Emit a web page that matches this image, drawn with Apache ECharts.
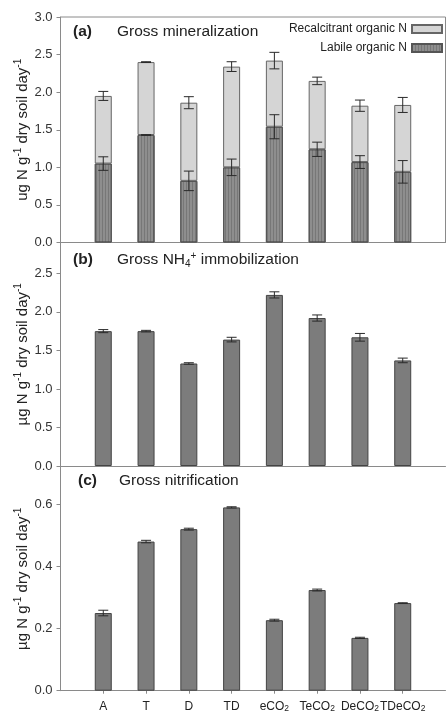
<!DOCTYPE html>
<html><head><meta charset="utf-8">
<script src="https://cdn.jsdelivr.net/npm/echarts@6/dist/echarts.min.js"></script>
<style>html,body{margin:0;padding:0;background:#fff}#c{width:446px;height:715px}</style>
</head><body><div id="c"></div>
<script>
// ---- data ----
const categories = ['A', 'T', 'D', 'TD', 'eCO2', 'TeCO2', 'DeCO2', 'TDeCO2'];
const labileN = [1.05, 1.43, 0.82, 1.00, 1.54, 1.24, 1.07, 0.94];
const labileErr = [0.09, 0.005, 0.13, 0.11, 0.16, 0.095, 0.085, 0.15];
const recalcitrantN = [0.90, 0.97, 1.04, 1.34, 0.88, 0.91, 0.75, 0.89];
const totalErr = [0.06, 0.005, 0.08, 0.065, 0.11, 0.05, 0.075, 0.10];
const nh4Immob = [1.75, 1.75, 1.33, 1.64, 2.22, 1.92, 1.67, 1.37];
const nh4ImmobErr = [0.02, 0.01, 0.01, 0.03, 0.04, 0.04, 0.05, 0.03];
const nitrif = [0.25, 0.48, 0.52, 0.59, 0.227, 0.324, 0.17, 0.282];
const nitrifErr = [0.009, 0.004, 0.003, 0.002, 0.003, 0.003, 0.002, 0.001];
const yMaxA = 3.0, yStepA = 0.5;
const yMaxB = 2.9, yStepB = 0.5;
const yMaxC = 0.72, yStepC = 0.2;

// ---- helpers ----
const FONT = '"Liberation Sans", Arial, sans-serif';
const AX = '#8a8a8a';
const xCats = [''].concat(categories, ['']);
const pad = arr => [null].concat(arr, [null]);
const total = labileN.map((v, i) => v + recalcitrantN[i]);
const errData = (vals, errs) => vals.map((v, i) => [i + 1, v, errs[i]]);

function errRender(params, api) {
  const x = api.value(0), y = api.value(1), e = api.value(2);
  const t = api.coord([x, y + e]), b = api.coord([x, y - e]);
  const hw = 5, st = { stroke: '#2a2a2a', lineWidth: 1 };
  return { type: 'group', children: [
    { type: 'line', shape: { x1: t[0], y1: t[1], x2: b[0], y2: b[1] }, style: st },
    { type: 'line', shape: { x1: t[0] - hw, y1: t[1], x2: t[0] + hw, y2: t[1] }, style: st },
    { type: 'line', shape: { x1: b[0] - hw, y1: b[1], x2: b[0] + hw, y2: b[1] }, style: st }
  ]};
}
function errSeries(idx, vals, errs) {
  return { type: 'custom', xAxisIndex: idx, yAxisIndex: idx, renderItem: errRender,
    data: errData(vals, errs), encode: { x: 0, y: 1 }, z: 10, silent: true };
}
const supRich = {
  n: { fontSize: 15, fontFamily: FONT, color: '#222', lineHeight: 19 },
  sup: { fontSize: 10, fontFamily: FONT, color: '#222', verticalAlign: 'top', lineHeight: 11 }
};
function yAxis(idx, max, step, name) {
  return {
    type: 'value', gridIndex: idx, min: 0, max: max, interval: step,
    name: name, nameLocation: 'middle', nameGap: 28, nameMoveOverlap: false,
    nameTextStyle: { rich: supRich },
    axisLine: { show: true, lineStyle: { color: AX, width: 1 } },
    axisTick: { show: true, length: 4, lineStyle: { color: AX } },
    axisLabel: { fontSize: 13, fontFamily: FONT, color: '#333', margin: 8, showMaxLabel: Math.abs(max / step - Math.round(max / step)) < 1e-9,
      formatter: v => v.toFixed(1) },
    splitLine: { show: false }
  };
}
function xAxis(idx, showLabels) {
  return {
    type: 'category', gridIndex: idx, data: xCats, boundaryGap: false,
    axisLine: { show: true, lineStyle: { color: AX, width: 1 } },
    axisTick: { show: showLabels, length: 3, interval: i => i > 0 && i < xCats.length - 1, lineStyle: { color: AX } },
    axisLabel: { show: showLabels, interval: i => i > 0 && i < xCats.length - 1, margin: 10,
      fontSize: 12, fontFamily: FONT, color: '#222',
      formatter: v => v.replace('CO2', 'CO{s|2}'),
      rich: { s: { fontSize: 8.5, fontFamily: FONT, color: '#222', verticalAlign: 'bottom', lineHeight: 10 } } },
    splitLine: { show: false }
  };
}
const titleRich = (w) => ({
  b: { fontSize: 15.5, fontWeight: 'bold', fontFamily: FONT, color: '#222', width: w, lineHeight: 18 },
  n: { fontSize: 15.5, fontWeight: 'normal', fontFamily: FONT, color: '#222', lineHeight: 18 },
  s: { fontSize: 10, fontWeight: 'normal', fontFamily: FONT, color: '#222', verticalAlign: 'bottom', lineHeight: 10 },
  p: { fontSize: 10, fontWeight: 'normal', fontFamily: FONT, color: '#222', verticalAlign: 'top', lineHeight: 10 }
});
const titleStyle = (w) => ({ fontWeight: 'normal', fontFamily: FONT, rich: titleRich(w) });

const chart = echarts.init(document.getElementById('c'), null, { renderer: 'canvas' });
chart.setOption({
  animation: false,
  backgroundColor: '#fff',
  textStyle: { fontFamily: FONT },
  title: [
    { text: '{b|(a)}{n|Gross mineralization}', left: 73, top: 23, padding: 0, textStyle: titleStyle(44) },
    { text: '{b|(b)}{n|Gross NH}{s|4}{p|+}{n| immobilization}', left: 73, top: 251, padding: 0, textStyle: titleStyle(44) },
    { text: '{b|(c)}{n|Gross nitrification}', left: 78, top: 472, padding: 0, textStyle: titleStyle(41) }
  ],
  legend: {
    data: [{ name: 'Recalcitrant organic N', icon: 'rect' }, { name: 'Labile organic N', icon: 'rect' }],
    orient: 'vertical', right: 3, top: 22, padding: 0, align: 'right',
    itemWidth: 30, itemHeight: 8, itemGap: 5,
    textStyle: { fontSize: 12, fontFamily: FONT, color: '#222', lineHeight: 14 }
  },
  grid: [
    { left: 60.5, right: 0.5, top: 17, height: 225.5, show: true, borderColor: AX, borderWidth: 1 },
    { left: 60.5, right: 0.5, top: 242.5, height: 223.5 },
    { left: 60.5, right: 0.5, top: 467, height: 223.7 }
  ],
  xAxis: [xAxis(0, false), xAxis(1, false), xAxis(2, true)],
  yAxis: [
    yAxis(0, yMaxA, yStepA, '{n|ug N g}{sup|-1}{n| dry soil day}{sup|-1}'),
    yAxis(1, yMaxB, yStepB, '{n|µg N g}{sup|-1}{n| dry soil day}{sup|-1}'),
    yAxis(2, yMaxC, yStepC, '{n|µg N g}{sup|-1}{n| dry soil day}{sup|-1}')
  ],
  series: [
    { name: 'Labile organic N', type: 'bar', xAxisIndex: 0, yAxisIndex: 0, stack: 'a', barWidth: 17,
      data: pad(labileN),
      itemStyle: { color: '#8e8e8e', borderColor: '#555', borderWidth: 1,
        decal: { symbol: 'rect', symbolSize: 1, color: 'rgba(0,0,0,0.16)', dashArrayX: [1, 2], dashArrayY: [4, 0], rotation: 0 } } },
    { name: 'Recalcitrant organic N', type: 'bar', xAxisIndex: 0, yAxisIndex: 0, stack: 'a', barWidth: 17,
      data: pad(recalcitrantN),
      itemStyle: { color: '#d5d5d5', borderColor: '#666', borderWidth: 1 } },
    errSeries(0, labileN, labileErr),
    errSeries(0, total, totalErr),
    { name: 'immob', type: 'bar', xAxisIndex: 1, yAxisIndex: 1, barWidth: 17, data: pad(nh4Immob),
      itemStyle: { color: '#7c7c7c', borderColor: '#444', borderWidth: 1 } },
    errSeries(1, nh4Immob, nh4ImmobErr),
    { name: 'nitrif', type: 'bar', xAxisIndex: 2, yAxisIndex: 2, barWidth: 17, data: pad(nitrif),
      itemStyle: { color: '#7c7c7c', borderColor: '#444', borderWidth: 1 } },
    errSeries(2, nitrif, nitrifErr)
  ]
});
</script></body></html>
